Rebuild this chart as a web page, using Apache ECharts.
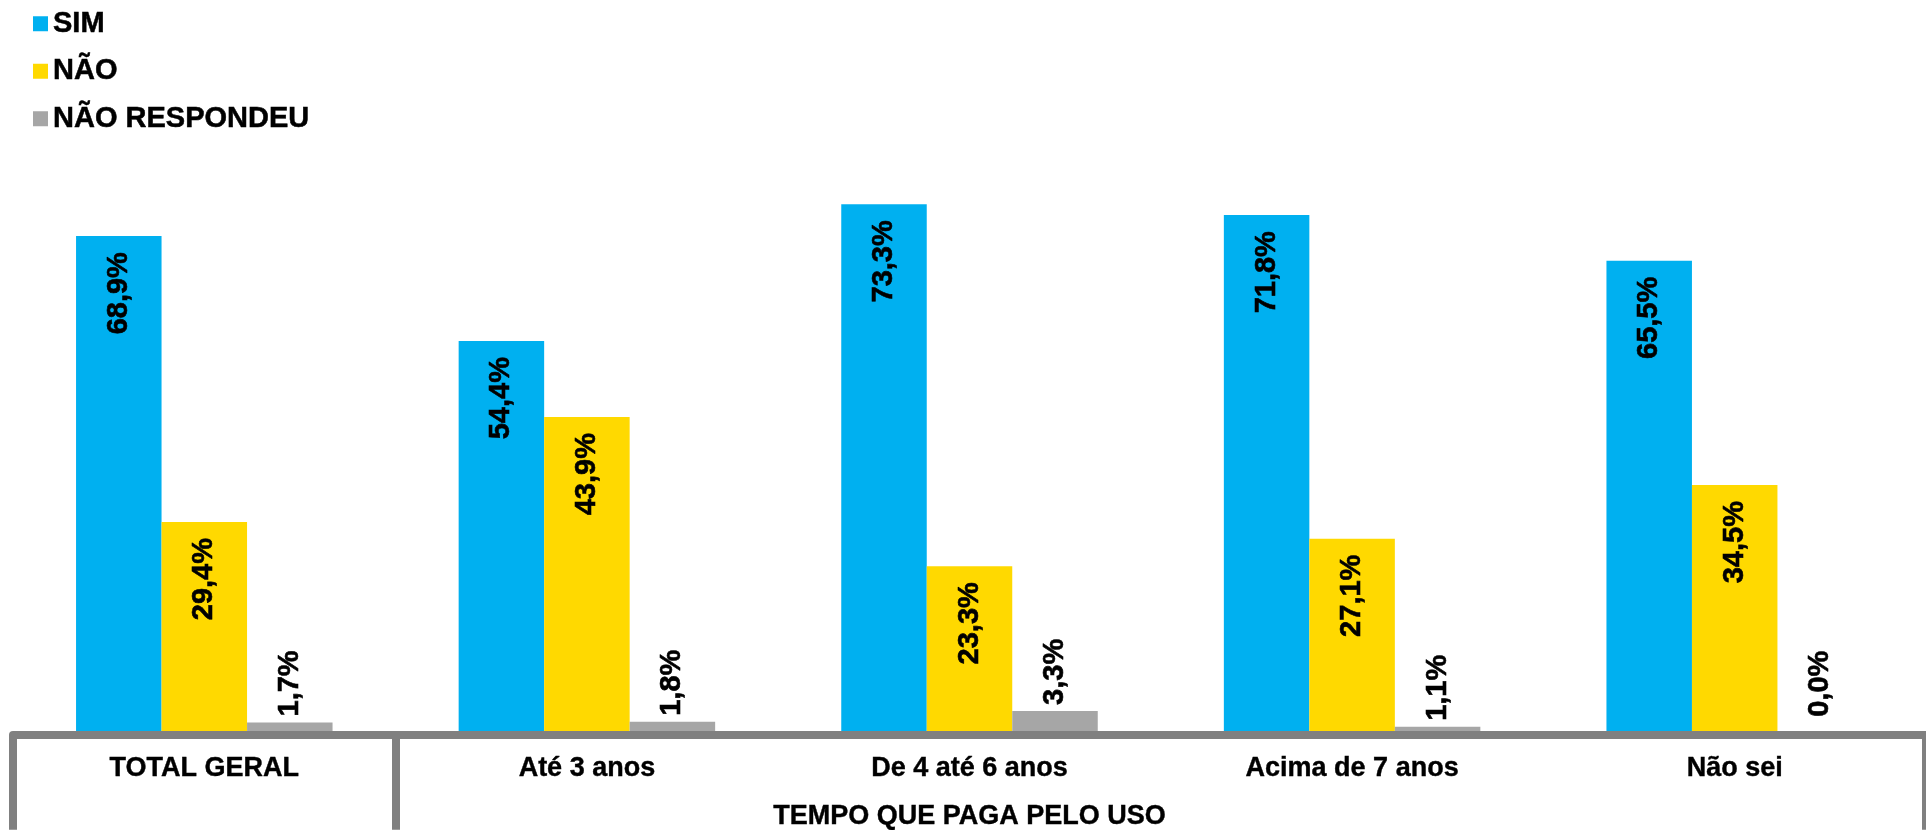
<!DOCTYPE html>
<html>
<head>
<meta charset="UTF-8">
<title>Tempo que paga pelo uso</title>
<script type="text/javascript" src="https://cdn.jsdelivr.net/npm/echarts@6/dist/echarts.min.js"></script>
<style>
html,body{margin:0;padding:0;background:#fff;}
</style>
</head>
<body>

<div id="box" style="width:1926px;height:830px;"></div>

<script type="text/javascript">

// dados
var categorias = ['TOTAL GERAL', 'Até 3 anos', 'De 4 até 6 anos', 'Acima de 7 anos', 'Não sei'];
var grupo = ['', '', 'TEMPO QUE PAGA PELO USO', '', ''];
var sim = [68.9, 54.4, 73.3, 71.8, 65.5];
var nao = [29.4, 43.9, 23.3, 27.1, 34.5];
var naoRespondeu = [1.7, 1.8, 3.3, 1.1, 0.0];

var fonte = 'Liberation Sans, Arial, sans-serif';

function fmt(p) {
  return p.value.toFixed(1).replace('.', ',') + '%';
}

// rótulo dentro da barra, lido de baixo para cima
var rotuloDentro = {
  show: true,
  position: 'insideTop',
  rotate: 90,
  align: 'right',
  verticalAlign: 'middle',
  distance: 16,
  color: '#000',
  textBorderColor: '#000',
  textBorderWidth: 0.6,
  fontFamily: fonte,
  fontWeight: 'bold',
  fontSize: 29,
  formatter: fmt
};

// rótulo acima da barra
var rotuloFora = {
  show: true,
  position: 'top',
  rotate: 90,
  align: 'left',
  verticalAlign: 'middle',
  distance: 6,
  color: '#000',
  textBorderColor: '#000',
  textBorderWidth: 0.6,
  fontFamily: fonte,
  fontWeight: 'bold',
  fontSize: 29,
  formatter: fmt
};

var mychart = echarts.init(document.getElementById('box'));

var option = {
  animation: false,
  backgroundColor: '#fff',
  legend: {
    orient: 'vertical',
    left: 28,
    top: 4,
    icon: 'rect',
    itemWidth: 15,
    itemHeight: 15,
    itemGap: 18,
    textStyle: {
      fontFamily: fonte,
      fontWeight: 'bold',
      fontSize: 29,
      color: '#000',
      textBorderColor: '#000',
      textBorderWidth: 0.5
    },
    data: ['SIM', 'NÃO', 'NÃO RESPONDEU']
  },
  grid: {
    left: 13,
    width: 1925,
    top: 11,
    bottom: 95
  },
  xAxis: [{
    type: 'category',
    data: categorias,
    z: 10,
    axisLine: {lineStyle: {color: '#808080', width: 8}},
    axisTick: {
      show: true,
      length: 95,
      lineStyle: {color: '#808080', width: 8},
      interval: function (index) { return index <= 1; }
    },
    axisLabel: {
      margin: 20,
      color: '#000',
      fontFamily: fonte,
      fontWeight: 'bold',
      fontSize: 27,
      textBorderColor: '#000',
      textBorderWidth: 0.4,
      interval: 0
    }
  }, {
    type: 'category',
    data: grupo,
    position: 'bottom',
    axisLine: {show: false},
    axisTick: {show: false},
    axisLabel: {
      margin: 68,
      color: '#000',
      fontFamily: fonte,
      fontWeight: 'bold',
      fontSize: 27,
      textBorderColor: '#000',
      textBorderWidth: 0.4,
      interval: 0
    }
  }],
  yAxis: {
    type: 'value',
    min: 0,
    max: 100,
    show: false,
    splitLine: {show: false}
  },
  series: [{
    name: 'SIM',
    type: 'bar',
    barWidth: 85.5,
    barGap: '0%',
    itemStyle: {color: '#00B0F0'},
    label: rotuloDentro,
    data: sim
  }, {
    name: 'NÃO',
    type: 'bar',
    barWidth: 85.5,
    barGap: '0%',
    itemStyle: {color: '#FFD900'},
    label: rotuloDentro,
    data: nao
  }, {
    name: 'NÃO RESPONDEU',
    type: 'bar',
    barWidth: 85.5,
    barGap: '0%',
    itemStyle: {color: '#A6A6A6'},
    label: rotuloFora,
    data: naoRespondeu.map(function (v) {
      // barra vazia: rótulo um pouco mais alto, como no original
      return v === 0 ? {value: v, label: {distance: 18}} : v;
    })
  }]
};

mychart.setOption(option);
</script>
</body>
</html>
